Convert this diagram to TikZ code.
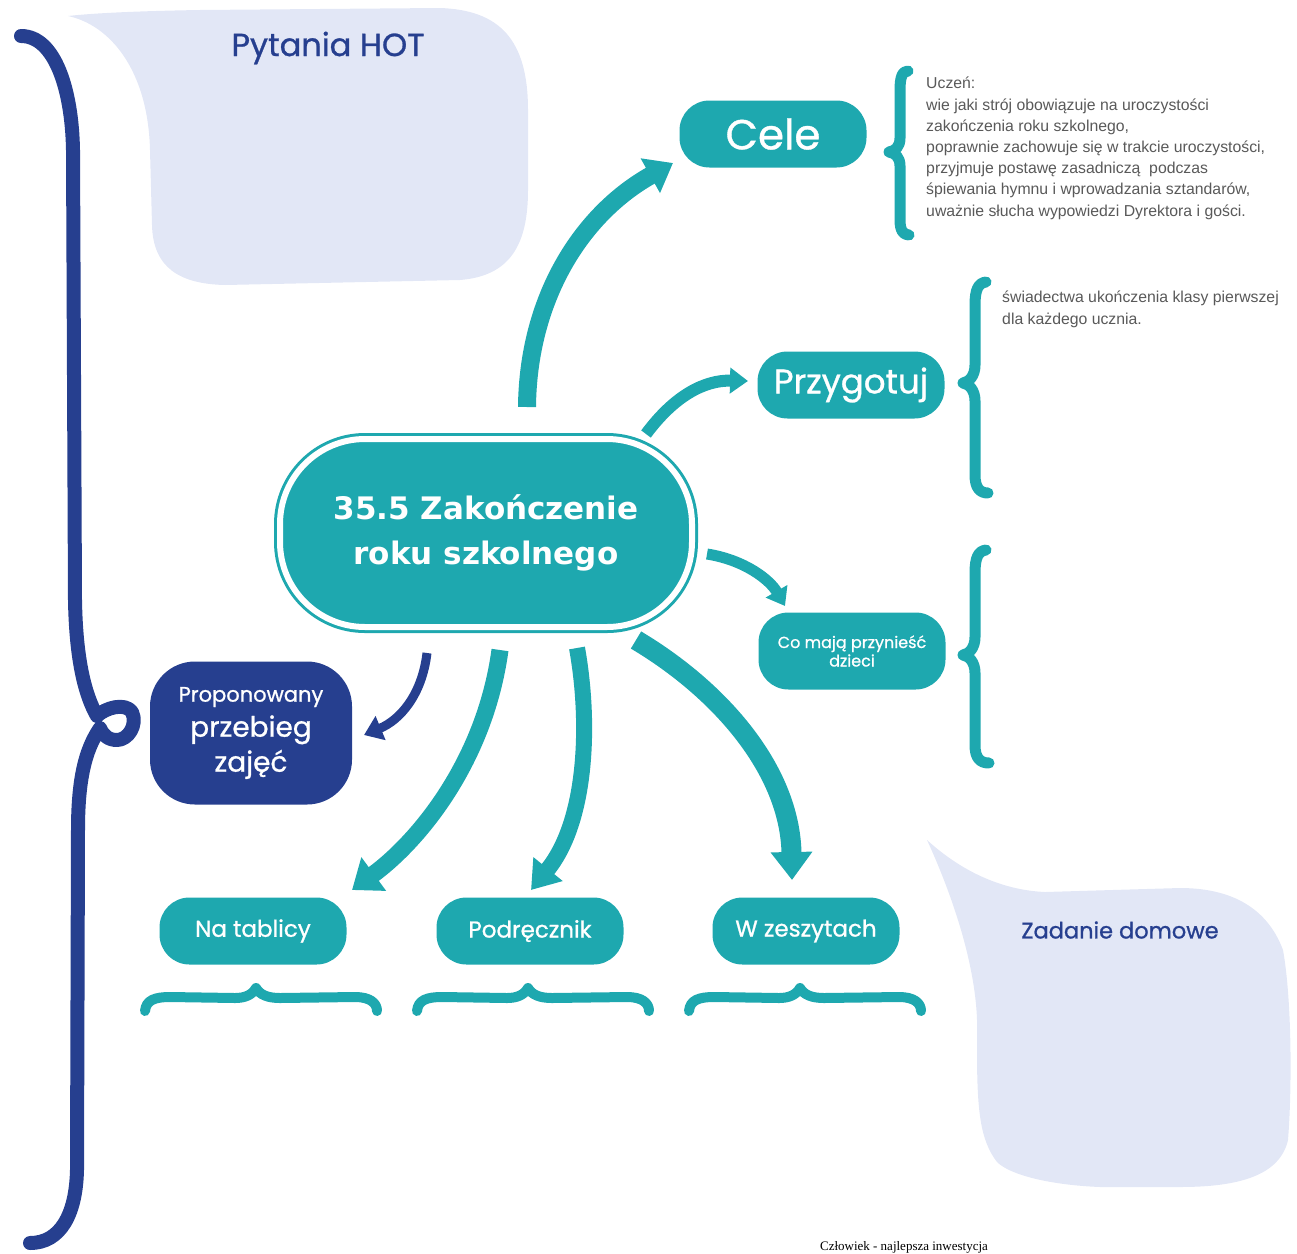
\documentclass[tikz,border=0pt]{standalone}
\usepackage{fontspec}
\setmainfont{Liberation Sans}
\newfontfamily\handfont[FakeBold=0.9]{Poppins}
\newfontfamily\boldfont{DejaVu Sans}
\newfontfamily\seriffont{Liberation Serif}
\usetikzlibrary{arrows.meta}
\definecolor{tealc}{HTML}{1EA8AF}
\definecolor{navyc}{HTML}{263F8F}
\definecolor{lavc}{HTML}{E2E7F6}
\definecolor{grayc}{HTML}{595959}
\begin{document}
\begin{tikzpicture}[x=1pt,y=-1pt,
  blob/.style={fill=tealc, rounded corners=30pt, inner sep=0pt, text=white, minimum width=187pt, minimum height=67pt, align=center},
  conn/.style={draw=tealc, line cap=butt},
  tbrace/.style={draw=tealc, line width=11pt, line cap=round, line join=round},
  hbrace/.style={draw=tealc, line width=10pt, line cap=round, line join=round},
  note/.style={text=grayc, align=left, inner sep=0pt, font=\fontsize{15.8}{21.2}\selectfont},
  hand/.style={font=\handfont\fontsize{#1}{#1}\selectfont}
]
\useasboundingbox (0,0) rectangle (1297,1253);

% speech bubbles
\fill[lavc] (68,16) .. controls (110,25) and (148,70) .. (150,150)
  -- (152,225) .. controls (153,268) and (180,284) .. (225,285)
  -- (460,280) .. controls (510,276) and (528,245) .. (528,190)
  -- (528,110) .. controls (528,40) and (500,10) .. (440,8)
  -- (200,10) .. controls (140,11) and (95,13) .. (68,16) -- cycle;
\node[hand=32, text=navyc] (hot) at (328,48) {Pytania HOT};

\fill[lavc] (927,840) .. controls (960,870) and (1000,890) .. (1045,892)
  -- (1180,888) .. controls (1240,888) and (1270,915) .. (1283,950)
  .. controls (1292,1000) and (1292,1090) .. (1288,1140)
  .. controls (1280,1175) and (1240,1187) .. (1180,1187)
  -- (1100,1187) .. controls (1050,1185) and (1010,1175) .. (997,1162)
  .. controls (980,1140) and (977,1110) .. (977,1050)
  -- (977,1020) .. controls (975,960) and (950,890) .. (927,840) -- cycle;
\node[hand=22.5, text=navyc] (hw) at (1120,930) {Zadanie domowe};

% left navy brace
\draw[navyc, line width=14pt, line cap=round, line join=round]
 (21,36) .. controls (55,36) and (72,90) .. (73,150)
 -- (75,600) .. controls (76,660) and (85,695) .. (97,716)
 .. controls (105,708) and (125,702) .. (132,712)
 .. controls (138,725) and (128,740) .. (117,740)
 .. controls (108,740) and (103,735) .. (100,728)
 .. controls (85,750) and (78,780) .. (78,830)
 -- (77,1170) .. controls (76,1215) and (60,1243) .. (30,1243);

% central node
\node[draw=tealc, double=white, double distance=6pt, line width=3pt, fill=tealc,
      rounded corners=85pt, minimum width=412pt, minimum height=188pt, inner sep=0pt,
      text=white, align=center, font=\boldfont\bfseries\fontsize{31}{45}\selectfont]
      (main) at (486,533) {35.5 Zakończenie\\roku szkolnego};

% teal nodes
\node[blob, hand=42] (cele) at (773,134) {Cele};
\node[blob, hand=34] (przyg) at (851,385) {Przygotuj};
\node[blob, minimum height=77pt, font=\handfont\fontsize{16}{18.5}\selectfont] (comaja) at (852,651) {Co mają przynieść\\dzieci};
\node[blob, hand=23] (tabl) at (253,931) {Na tablicy};
\node[blob, hand=23] (podr) at (530,931) {Podręcznik};
\node[blob, hand=23] (zesz) at (806,931) {W zeszytach};
\node[fill=navyc, rounded corners=45pt, minimum width=202pt, minimum height=143pt, inner sep=0pt,
      text=white, align=center, font=\handfont\fontsize{28}{35}\selectfont] (prop) at (251,733)
      {{\fontsize{21}{24}\selectfont Proponowany}\\przebieg\\zajęć};

% notes
\node[note, anchor=north west] (celetxt) at (926,77) {Uczeń:\\wie jaki strój obowiązuje na uroczystości\\zakończenia roku szkolnego,\\poprawnie zachowuje się w trakcie uroczystości,\\przyjmuje postawę zasadniczą~ podczas\\śpiewania hymnu i wprowadzania sztandarów,\\uważnie słucha wypowiedzi Dyrektora i gości.};
\node[note, anchor=north west] (przygtxt) at (1002,291) {świadectwa ukończenia klasy pierwszej\\dla każdego ucznia.};

% vertical teal braces
\draw[tbrace] (908,71) .. controls (902,71) and (900,78) .. (900,90) -- (900,138)
  .. controls (900,147) and (895,151) .. (889,152) .. controls (895,153) and (900,157) .. (900,166)
  -- (900,220) .. controls (900,230) and (903,235) .. (909,235);
\draw[tbrace] (986,282) .. controls (978,283) and (975,290) .. (975,305) -- (975,365)
  .. controls (975,376) and (969,382) .. (963,383) .. controls (969,384) and (975,390) .. (975,401)
  -- (975,475) .. controls (975,488) and (980,493) .. (988,493);
\draw[tbrace] (986,550) .. controls (978,551) and (975,558) .. (975,573) -- (975,637)
  .. controls (975,648) and (969,654) .. (963,655) .. controls (969,656) and (975,662) .. (975,673)
  -- (975,745) .. controls (975,758) and (980,763) .. (989,763);

% horizontal braces
\foreach \dx in {0,272,544}{
  \begin{scope}[xshift=\dx]
  \draw[hbrace] (145,1011) .. controls (146,1000) and (155,997) .. (170,997) -- (235,998)
   .. controls (245,998) and (252,995) .. (256,988) .. controls (260,995) and (268,998) .. (280,998)
   -- (355,997) .. controls (370,997) and (377,1003) .. (377,1011);
  \end{scope}
}

% connectors
\coordinate (a1s) at (527,407); \coordinate (a1e) at (673,163);
\coordinate (a2s) at (646,434); \coordinate (a2e) at (748,381);
\coordinate (a3s) at (707,554); \coordinate (a3e) at (785,606);
\coordinate (a4s) at (427,653); \coordinate (a4e) at (364,735);
\coordinate (a5s) at (500,650); \coordinate (a5e) at (352,890);
\coordinate (a6s) at (577,648); \coordinate (a6e) at (531,890);
\coordinate (a7s) at (636,640); \coordinate (a7e) at (792,880);

\draw[conn, line width=18pt, -{Triangle[length=26pt,width=38pt]}] (a1s) .. controls (528,300) and (580,215) .. (a1e);
\draw[conn, line width=12pt, -{Triangle[length=18pt,width=25pt]}] (a2s) .. controls (675,395) and (705,380) .. (a2e);
\draw[conn, line width=11pt, -{Triangle[length=17pt,width=24pt]}] (a3s) .. controls (745,560) and (770,580) .. (a3e);
\draw[draw=navyc, line cap=butt, line width=9pt, -{Triangle[length=18pt,width=25pt]}] (a4s) .. controls (422,695) and (400,720) .. (a4e);
\draw[conn, line width=17pt, -{Triangle[length=27pt,width=40pt]}] (a5s) .. controls (485,760) and (420,840) .. (a5e);
\draw[conn, line width=16pt, -{Triangle[length=27pt,width=36pt]}] (a6s) .. controls (590,720) and (588,820) .. (a6e);
\draw[conn, line width=20pt, -{Triangle[length=28pt,width=40pt]}] (a7s) .. controls (720,690) and (790,770) .. (a7e);

% footer
\node[font=\seriffont\fontsize{13}{15}\selectfont, anchor=south, inner sep=0pt] (foot) at (904,1253) {Człowiek - najlepsza inwestycja};
\end{tikzpicture}
\end{document}
